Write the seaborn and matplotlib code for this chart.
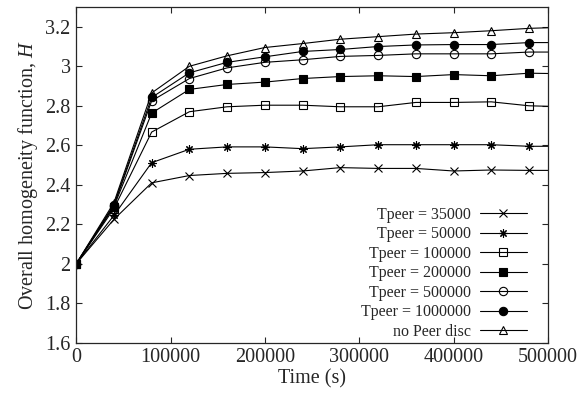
import numpy as np
import pandas as pd
import matplotlib
matplotlib.use("Agg")
import matplotlib.pyplot as plt
import seaborn as sns

# time axis (s)
time_s = [0, 40000, 80000, 120000, 160000, 200000, 240000, 280000,
          320000, 360000, 400000, 440000, 480000, 520000]

# H values
h_35000 = [2.0, 2.225, 2.41, 2.447, 2.458, 2.462, 2.47, 2.487, 2.483, 2.483, 2.47, 2.475, 2.473, 2.473]
h_50000 = [2.0, 2.245, 2.512, 2.58, 2.592, 2.592, 2.583, 2.592, 2.603, 2.603, 2.603, 2.603, 2.595, 2.595]
h_100000 = [2.0, 2.28, 2.667, 2.77, 2.795, 2.803, 2.803, 2.795, 2.795, 2.817, 2.817, 2.82, 2.8, 2.795]
h_200000 = [2.0, 2.29, 2.763, 2.883, 2.908, 2.92, 2.938, 2.948, 2.952, 2.948, 2.958, 2.952, 2.965, 2.962]
h_500000 = [2.0, 2.295, 2.825, 2.938, 2.992, 3.02, 3.033, 3.05, 3.055, 3.063, 3.063, 3.063, 3.072, 3.072]
h_1000000 = [2.0, 2.30, 2.842, 2.967, 3.02, 3.048, 3.075, 3.085, 3.10, 3.108, 3.11, 3.11, 3.12, 3.12]
h_nodisc = [2.0, 2.31, 2.865, 3.0, 3.053, 3.095, 3.115, 3.137, 3.15, 3.163, 3.17, 3.18, 3.192, 3.198]

labels = ["Tpeer = 35000", "Tpeer = 50000", "Tpeer = 100000", "Tpeer = 200000",
          "Tpeer = 500000", "Tpeer = 1000000", "no Peer disc"]
series = [h_35000, h_50000, h_100000, h_200000, h_500000, h_1000000, h_nodisc]

y_ticks = [1.6, 1.8, 2.0, 2.2, 2.4, 2.6, 2.8, 3.0, 3.2]
x_ticks = [0, 100000, 200000, 300000, 400000, 500000]

# marker, facecolor
styles = [("x", "k"), ((8, 2, 0), "k"), ("s", "none"), ("s", "k"),
          ("o", "none"), ("o", "k"), ("^", "none")]

sns.set_style("ticks")
plt.rcParams["font.family"] = ["Liberation Serif", "DejaVu Serif"]
plt.rcParams["mathtext.fontset"] = "custom"
plt.rcParams["mathtext.it"] = "Liberation Serif:italic"
plt.rcParams["mathtext.rm"] = "Liberation Serif"

fig, ax = plt.subplots(figsize=(5.86, 4.01), dpi=100)
fig.subplots_adjust(left=0.13, right=0.935, top=0.9825, bottom=0.145)

for lab, vals, (mk, fc) in zip(labels, series, styles):
    df = pd.DataFrame({"time": time_s, "H": vals})
    sns.lineplot(data=df, x="time", y="H", ax=ax, color="k", lw=0.8,
                 marker=mk, markersize=6, markerfacecolor=fc,
                 markeredgecolor="k", markeredgewidth=0.8, label=lab)

ax.set_xlim(0, 500000)
ax.set_ylim(1.6, 3.3)
ax.set_xticks(x_ticks)
ax.set_xticklabels([str(t) for t in x_ticks])
ax.set_yticks(y_ticks)
ax.set_yticklabels(["%g" % t for t in y_ticks])
ax.tick_params(direction="in", top=True, right=True, length=4, width=0.8,
               labelsize=14.5, pad=4)
for s in ax.spines.values():
    s.set_linewidth(0.9)

ax.set_xlabel("Time (s)", fontsize=14.5, labelpad=1)
ax.set_ylabel("Overall homogeneity function, $H$", fontsize=14.5, labelpad=4)

ax.legend(loc="lower right", bbox_to_anchor=(0.975, -0.02), frameon=False,
          markerfirst=False, numpoints=1, fontsize=11.5, handlelength=2.9,
          labelspacing=0.22, borderaxespad=0.2, handletextpad=0.6)

fig.savefig("out.png", dpi=100)
